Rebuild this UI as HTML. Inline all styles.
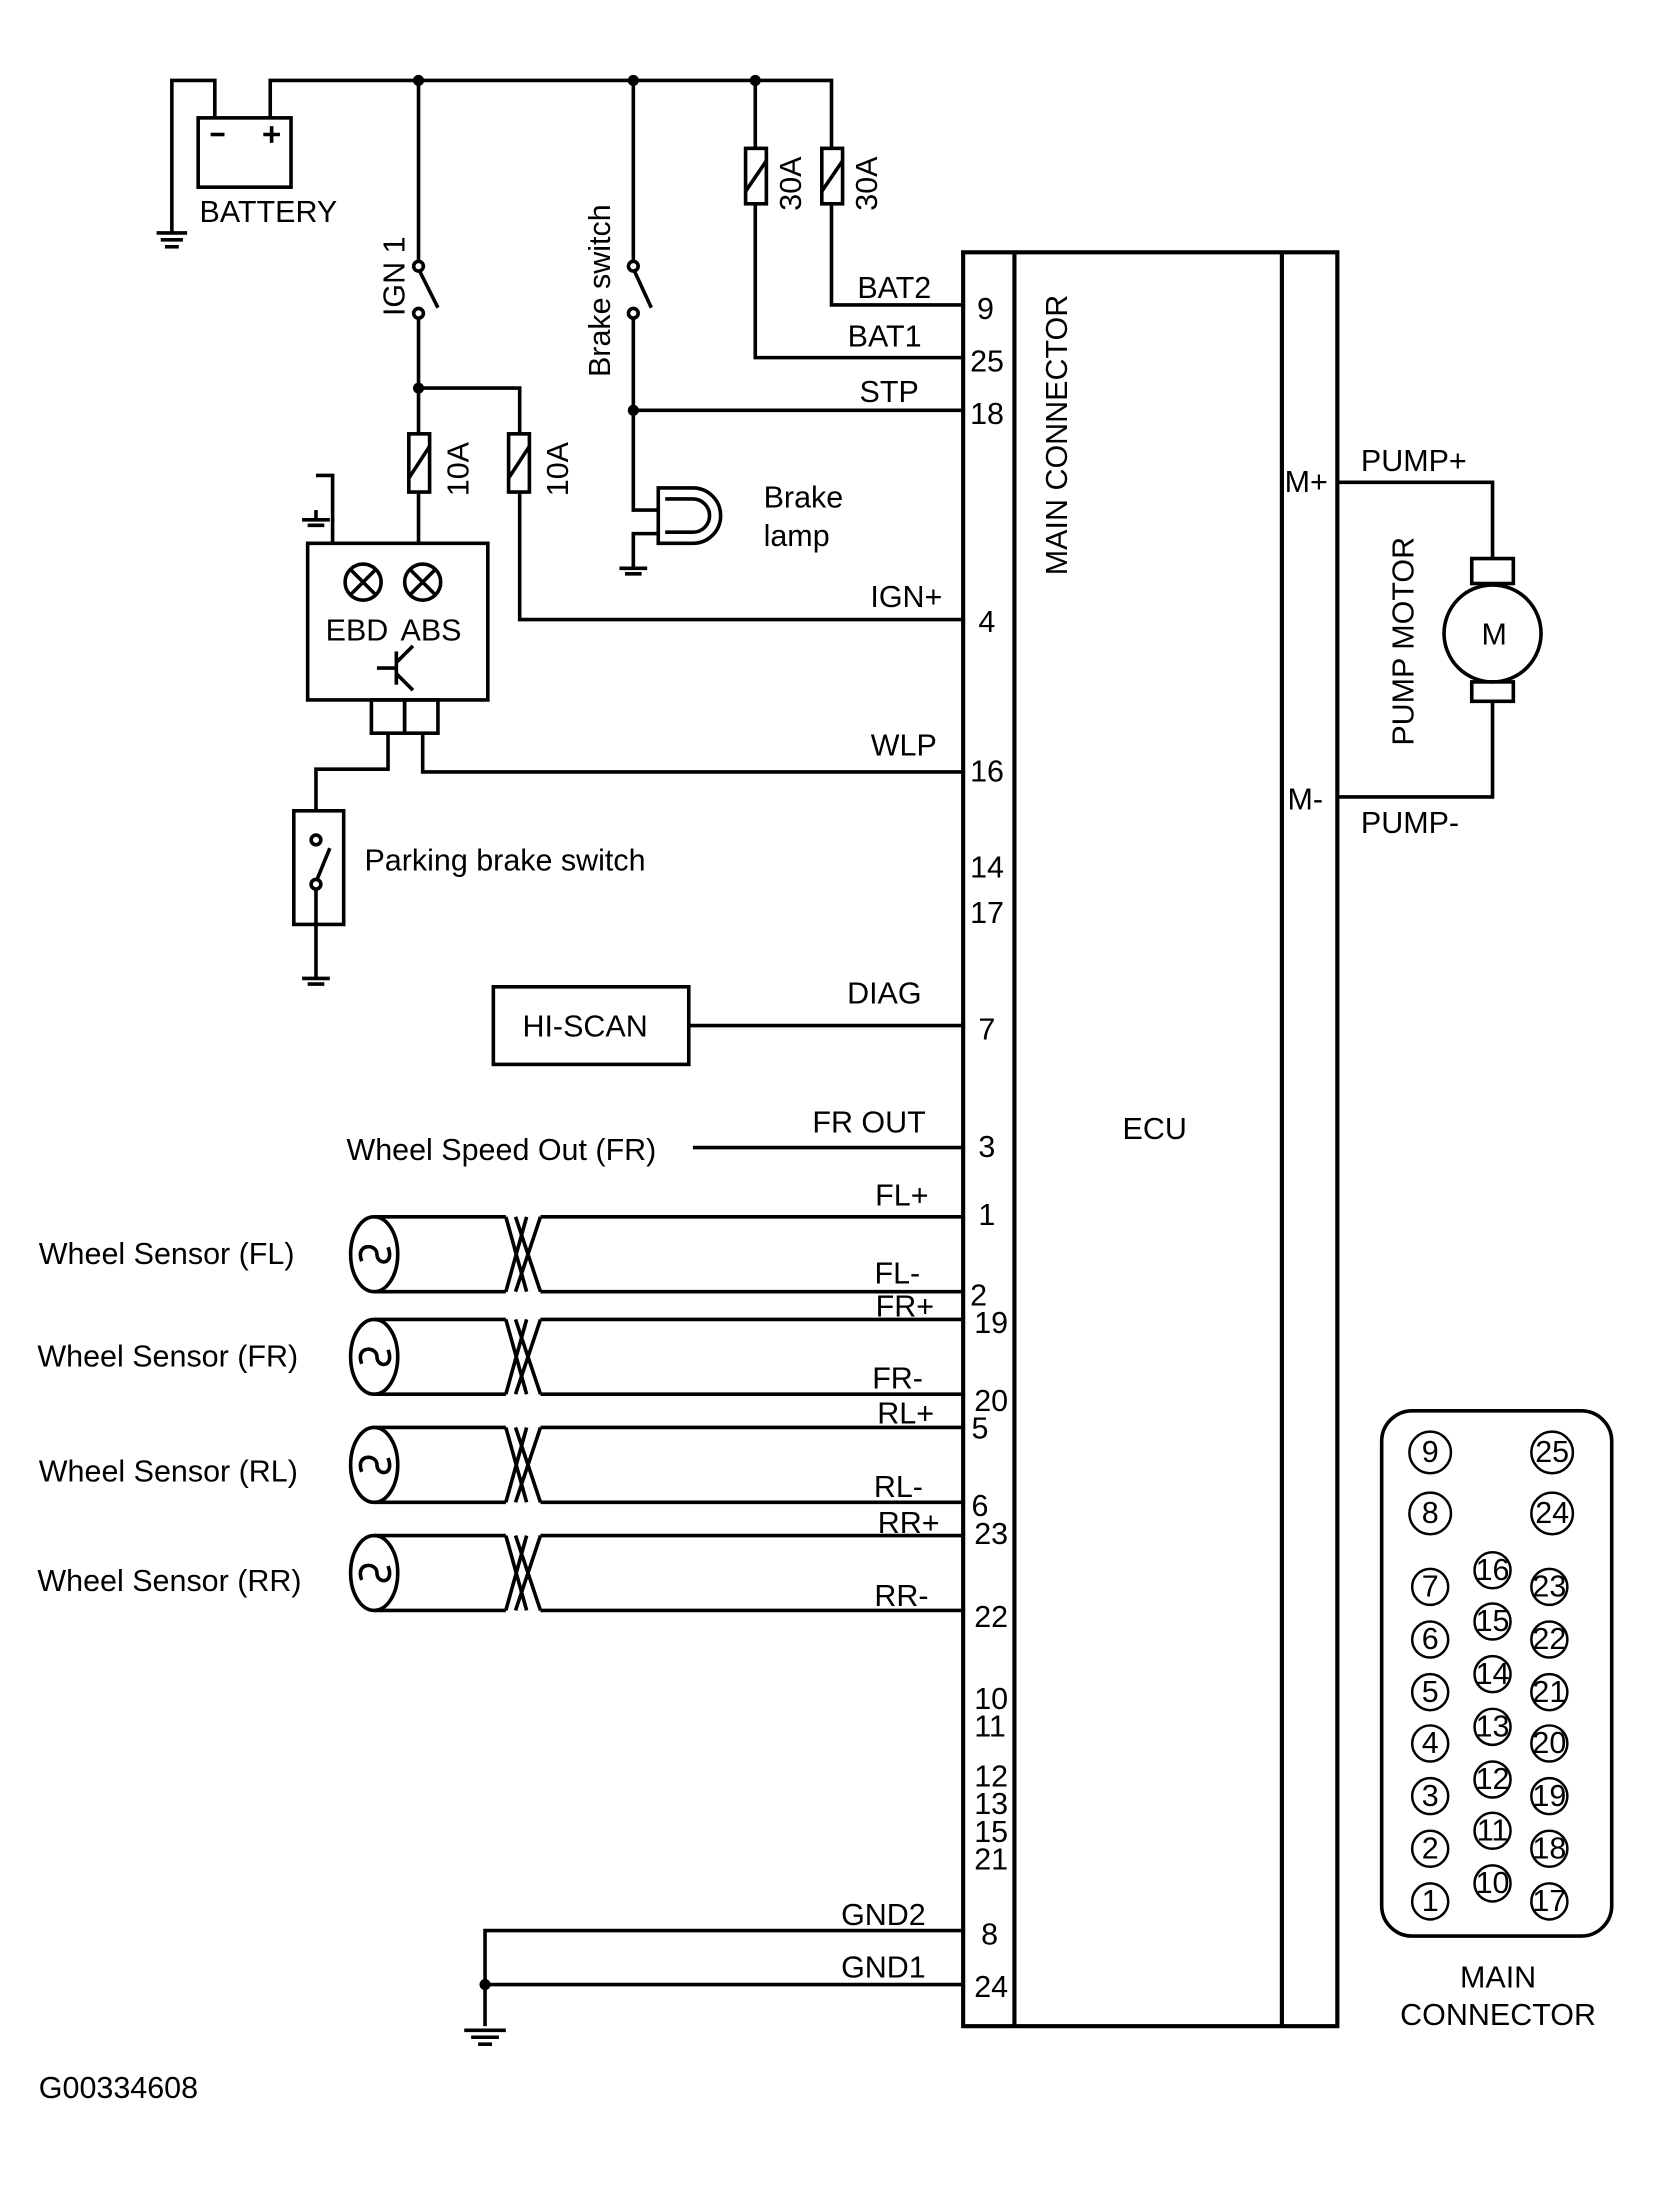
<!DOCTYPE html>
<html><head><meta charset="utf-8"><style>
html,body{margin:0;padding:0;background:#fff}
svg{display:block}
text{font-family:"Liberation Sans",sans-serif;font-size:22px;fill:#000}
</style></head><body>
<svg width="1663" height="2187" viewBox="0 0 1200 1578" xmlns="http://www.w3.org/2000/svg">
<g stroke="#000" stroke-width="2.6" fill="none">
<polyline points="195,85 195,58 600,58 600,107"/>
<polyline points="155,85 155,58 124,58 124,168"/>
<line x1="113" y1="168" x2="135" y2="168"/><line x1="116" y1="173" x2="132" y2="173"/><line x1="119" y1="178" x2="129" y2="178"/>
<rect x="143" y="85" width="67" height="50"/>
<line x1="152" y1="97" x2="162" y2="97"/><line x1="190" y1="97" x2="202" y2="97"/><line x1="196" y1="91" x2="196" y2="103"/>
<line x1="302" y1="58" x2="302" y2="188"/>
<circle cx="302" cy="192" r="3.5"/><circle cx="302" cy="226" r="3.5"/>
<line x1="303" y1="196" x2="316" y2="222"/>
<polyline points="302,230 302,280 375,280 375,313"/>
<rect x="295" y="313" width="15" height="42"/><line x1="295" y1="345" x2="310" y2="322"/>
<rect x="367" y="313" width="15" height="42"/><line x1="367" y1="345" x2="382" y2="322"/>
<line x1="302" y1="280" x2="302" y2="313"/><line x1="302" y1="355" x2="302" y2="392"/>
<polyline points="375,355 375,447 695,447"/>
<rect x="222" y="392" width="130" height="113"/>
<polyline points="240,392 240,343 228,343"/>
<line x1="218" y1="375" x2="238" y2="375"/><line x1="222" y1="379" x2="234" y2="379"/><line x1="228" y1="368" x2="228" y2="375"/>
<circle cx="262" cy="420" r="13"/><line x1="253" y1="411" x2="271" y2="429"/><line x1="271" y1="411" x2="253" y2="429"/>
<circle cx="305" cy="420" r="13"/><line x1="296" y1="411" x2="314" y2="429"/><line x1="314" y1="411" x2="296" y2="429"/>
<line x1="286" y1="470" x2="286" y2="494"/><line x1="272" y1="482" x2="286" y2="482"/><line x1="286" y1="478" x2="298" y2="466"/><line x1="286" y1="486" x2="298" y2="498"/>
<rect x="268" y="505" width="24" height="24"/><rect x="292" y="505" width="24" height="24"/>
<polyline points="280,529 280,555 228,555 228,585"/>
<polyline points="305,529 305,557 695,557"/>
<rect x="212" y="585" width="36" height="82"/>
<circle cx="228" cy="606" r="3.5"/><circle cx="228" cy="638" r="3.5"/>
<line x1="229" y1="634" x2="238" y2="612"/>
<line x1="228" y1="642" x2="228" y2="706"/>
<line x1="218" y1="706" x2="238" y2="706"/><line x1="222" y1="710" x2="234" y2="710"/>
<line x1="457" y1="58" x2="457" y2="188"/>
<circle cx="457" cy="192" r="3.5"/><circle cx="457" cy="226" r="3.5"/>
<line x1="458" y1="196" x2="470" y2="222"/>
<polyline points="457,230 457,296 695,296"/>
<polyline points="457,296 457,368 475,368"/>
<polyline points="475,385 457,385 457,410"/>
<line x1="447" y1="410" x2="467" y2="410"/><line x1="451" y1="414" x2="463" y2="414"/>
<path d="M475,352 H500 A20,20 0 0 1 500,392 H475 Z"/>
<path d="M480,360 H500 A12,12 0 0 1 500,384 H480"/>
<polyline points="545,58 545,107"/>
<rect x="538" y="107" width="15" height="40"/><line x1="538" y1="138" x2="553" y2="116"/>
<rect x="593" y="107" width="15" height="40"/><line x1="593" y1="138" x2="608" y2="116"/>
<polyline points="545,147 545,258 695,258"/>
<polyline points="600,147 600,220 695,220"/>
<rect x="695" y="182" width="270" height="1280" stroke-width="3"/>
<line x1="732" y1="182" x2="732" y2="1462" stroke-width="3"/>
<line x1="925" y1="182" x2="925" y2="1462" stroke-width="3"/>
<polyline points="965,348 1077,348 1077,403"/>
<rect x="1062" y="403" width="30" height="18"/>
<circle cx="1077" cy="457" r="35"/>
<rect x="1062" y="492" width="30" height="14"/>
<polyline points="1077,506 1077,575 965,575"/>
<rect x="356" y="712" width="141" height="56"/>
<line x1="497" y1="740" x2="695" y2="740"/>
<line x1="500" y1="828" x2="695" y2="828"/>
<g id="s">
<ellipse cx="270" cy="905" rx="17" ry="27"/>
<line x1="270" y1="878" x2="365" y2="878"/><line x1="390" y1="878" x2="695" y2="878"/>
<line x1="270" y1="932" x2="365" y2="932"/><line x1="390" y1="932" x2="695" y2="932"/>
<path d="M365,878 L380,932 M390,878 L372,932 M365,932 L380,878 M390,932 L372,878"/>
<path d="M261,910 C256,897 272,897 272,905 C272,913 285,913 280,900" />
</g>
<use href="#s" y="74"/>
<use href="#s" y="152"/>
<use href="#s" y="230"/>
<polyline points="695,1393 350,1393 350,1462"/>
<line x1="350" y1="1432" x2="695" y2="1432"/>
<line x1="335" y1="1465" x2="365" y2="1465"/><line x1="340" y1="1470" x2="360" y2="1470"/><line x1="345" y1="1475" x2="355" y2="1475"/>
<rect x="997" y="1018" width="166" height="379" rx="22"/>
<g stroke-width="1.8">
<circle cx="1032" cy="1048" r="15"/><circle cx="1120" cy="1048" r="15"/>
<circle cx="1032" cy="1092" r="15"/><circle cx="1120" cy="1092" r="15"/>
<circle cx="1032" cy="1145" r="13"/><circle cx="1032" cy="1183" r="13"/><circle cx="1032" cy="1221" r="13"/><circle cx="1032" cy="1258" r="13"/><circle cx="1032" cy="1296" r="13"/><circle cx="1032" cy="1334" r="13"/><circle cx="1032" cy="1372" r="13"/>
<circle cx="1077" cy="1133" r="13"/><circle cx="1077" cy="1170" r="13"/><circle cx="1077" cy="1208" r="13"/><circle cx="1077" cy="1246" r="13"/><circle cx="1077" cy="1284" r="13"/><circle cx="1077" cy="1321" r="13"/><circle cx="1077" cy="1359" r="13"/>
<circle cx="1118" cy="1145" r="13"/><circle cx="1118" cy="1183" r="13"/><circle cx="1118" cy="1221" r="13"/><circle cx="1118" cy="1258" r="13"/><circle cx="1118" cy="1296" r="13"/><circle cx="1118" cy="1334" r="13"/><circle cx="1118" cy="1372" r="13"/>
</g>
</g>
<g fill="#000">
<circle cx="302" cy="58" r="4"/><circle cx="457" cy="58" r="4"/><circle cx="545" cy="58" r="4"/>
<circle cx="302" cy="280" r="4"/><circle cx="457" cy="296" r="4"/><circle cx="350" cy="1432" r="4"/>
</g>
<text x="144" y="160">BATTERY</text>
<text transform="translate(292,228) rotate(-90)">IGN 1</text>
<text transform="translate(440,272) rotate(-90)">Brake switch</text>
<text transform="translate(578,152) rotate(-90)">30A</text>
<text transform="translate(633,152) rotate(-90)">30A</text>
<text transform="translate(338,358) rotate(-90)">10A</text>
<text transform="translate(410,358) rotate(-90)">10A</text>
<text x="551" y="366">Brake</text><text x="551" y="394">lamp</text>
<text x="235" y="462" font-size="21">EBD</text><text x="289" y="462" font-size="21">ABS</text>
<text x="263" y="628">Parking brake switch</text>
<text x="377" y="748">HI-SCAN</text>
<text x="250" y="837">Wheel Speed Out (FR)</text>
<text x="28" y="912">Wheel Sensor (FL)</text>
<text x="27" y="986">Wheel Sensor (FR)</text>
<text x="28" y="1069">Wheel Sensor (RL)</text>
<text x="27" y="1148">Wheel Sensor (RR)</text>
<g text-anchor="end">
<text x="672" y="215">BAT2</text><text x="665" y="250">BAT1</text><text x="663" y="290">STP</text>
<text x="680" y="438">IGN+</text><text x="676" y="545">WLP</text><text x="665" y="724">DIAG</text>
<text x="668" y="817">FR OUT</text>
<text x="670" y="870">FL+</text><text x="664" y="926">FL-</text><text x="674" y="950">FR+</text>
<text x="666" y="1002">FR-</text><text x="674" y="1027">RL+</text><text x="666" y="1080">RL-</text>
<text x="678" y="1106">RR+</text><text x="670" y="1159">RR-</text>
<text x="668" y="1389">GND2</text><text x="668" y="1427">GND1</text>
</g>
<g font-size="21">
<text x="705" y="230">9</text><text x="700" y="268">25</text><text x="700" y="306">18</text>
<text x="706" y="456">4</text><text x="700" y="564">16</text><text x="700" y="633">14</text><text x="700" y="666">17</text>
<text x="706" y="750">7</text><text x="706" y="835">3</text><text x="706" y="884">1</text>
<text x="700" y="942">2</text><text x="703" y="962">19</text><text x="703" y="1018">20</text><text x="701" y="1038">5</text>
<text x="701" y="1094">6</text><text x="703" y="1114">23</text><text x="703" y="1174">22</text>
<text x="703" y="1233">10</text><text x="703" y="1253">11</text><text x="703" y="1289">12</text><text x="703" y="1309">13</text>
<text x="703" y="1329">15</text><text x="703" y="1349">21</text><text x="708" y="1403">8</text><text x="703" y="1441">24</text>
</g>
<text transform="translate(770,415) rotate(-90)">MAIN CONNECTOR</text>
<text x="810" y="822">ECU</text>
<text x="927" y="355" font-size="21">M+</text><text x="929" y="584" font-size="21">M-</text>
<text x="982" y="340">PUMP+</text><text x="982" y="601">PUMP-</text>
<text transform="translate(1020,538) rotate(-90)">PUMP MOTOR</text>
<text x="1069" y="465" font-size="21">M</text>
<g font-size="20" text-anchor="middle">
<text x="1032" y="1055">9</text><text x="1120" y="1055">25</text><text x="1032" y="1099">8</text><text x="1120" y="1099">24</text>
<text x="1032" y="1152">7</text><text x="1032" y="1190">6</text><text x="1032" y="1228">5</text><text x="1032" y="1265">4</text><text x="1032" y="1303">3</text><text x="1032" y="1341">2</text><text x="1032" y="1379">1</text>
<text x="1077" y="1140">16</text><text x="1077" y="1177">15</text><text x="1077" y="1215">14</text><text x="1077" y="1253">13</text><text x="1077" y="1291">12</text><text x="1077" y="1328">11</text><text x="1077" y="1366">10</text>
<text x="1118" y="1152">23</text><text x="1118" y="1190">22</text><text x="1118" y="1228">21</text><text x="1118" y="1265">20</text><text x="1118" y="1303">19</text><text x="1118" y="1341">18</text><text x="1118" y="1379">17</text>
</g>
<text x="1081" y="1434" text-anchor="middle">MAIN</text>
<text x="1081" y="1461" text-anchor="middle">CONNECTOR</text>
<text x="28" y="1514" font-size="18">G00334608</text>
</svg>
</body></html>
